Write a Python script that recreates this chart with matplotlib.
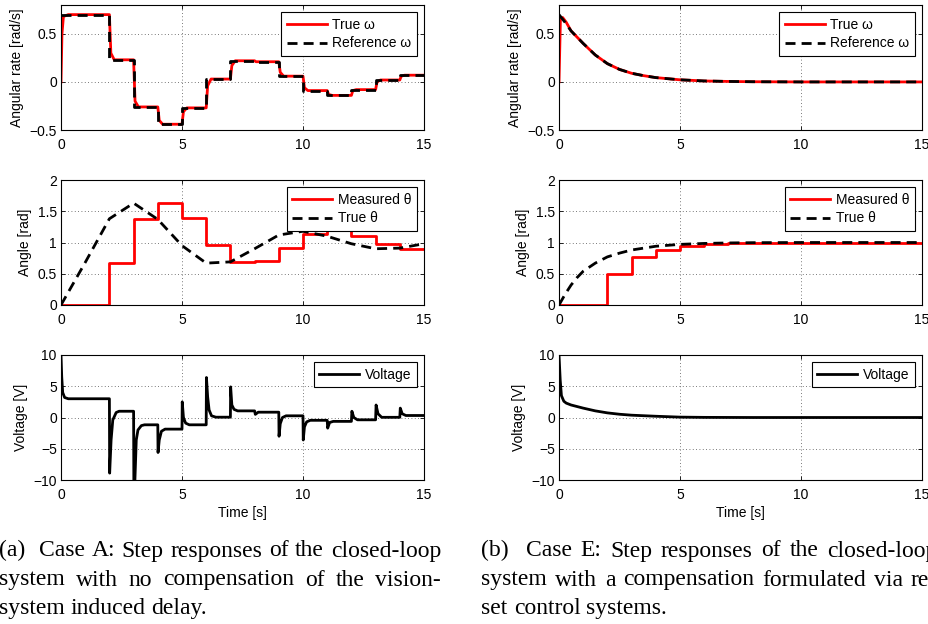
import numpy as np
import matplotlib
matplotlib.use("Agg")
import matplotlib.pyplot as plt

plt.rcParams['font.family'] = ['Liberation Sans', 'DejaVu Sans']
plt.rcParams['axes.unicode_minus'] = True

# ---------------- data ----------------
t_samples = [0, 1, 2, 3, 4, 5, 6, 7, 8, 9, 10, 11, 12, 13, 14, 15]

# Case A (no compensation)
omegaA_ref = [0.70, 0.70, 0.23, -0.26, -0.44, -0.27, 0.03, 0.22, 0.21, 0.06,
              -0.09, -0.14, -0.08, 0.02, 0.07]
omegaA_true_t = [0.00, 0.04, 0.10, 0.30,
                 2.00, 2.06, 2.20, 3.00, 3.06, 3.20, 4.00, 4.06, 4.20,
                 5.00, 5.06, 5.20, 6.00, 6.06, 6.20, 7.00, 7.06, 7.20,
                 8.00, 8.06, 8.20, 9.00, 9.06, 9.20, 10.00, 10.06, 10.20,
                 11.00, 11.06, 11.20, 12.00, 12.06, 12.20, 13.00, 13.06, 13.20,
                 14.00, 14.06, 14.20, 15.00]
omegaA_true = [0.00, 0.50, 0.68, 0.70,
               0.70, 0.30, 0.23, 0.23, -0.20, -0.26, -0.26, -0.40, -0.44,
               -0.44, -0.31, -0.27, -0.27, -0.04, 0.03, 0.03, 0.17, 0.22,
               0.22, 0.21, 0.21, 0.21, 0.10, 0.06, 0.06, -0.06, -0.09,
               -0.09, -0.13, -0.14, -0.14, -0.09, -0.08, -0.08, 0.00, 0.02,
               0.02, 0.06, 0.07, 0.07]

thetaA_meas = [0.0, 0.0, 0.665, 1.38, 1.625, 1.385, 0.955, 0.685, 0.705, 0.915,
               1.14, 1.20, 1.11, 0.98, 0.90]
thetaA_true = [0.00, 0.68, 1.38, 1.63, 1.37, 0.95, 0.67, 0.69, 0.90, 1.12,
               1.18, 1.10, 0.98, 0.90, 0.91, 0.98]

voltA_t = [0.00, 0.03, 0.07, 0.15, 0.30,
           2.00, 2.01, 2.07, 2.14, 2.28, 2.40,
           3.00, 3.01, 3.05, 3.11, 3.18, 3.32, 3.45,
           4.00, 4.01, 4.06, 4.15, 4.30,
           5.00, 5.01, 5.06, 5.15, 5.30,
           6.00, 6.01, 6.06, 6.12, 6.22, 6.40,
           7.00, 7.01, 7.06, 7.15, 7.30,
           8.00, 8.03, 8.15,
           9.00, 9.01, 9.06, 9.15, 9.30,
           10.00, 10.01, 10.06, 10.15, 10.30,
           11.00, 11.02, 11.10, 11.25,
           12.00, 12.02, 12.10, 12.25,
           13.00, 13.02, 13.10, 13.25,
           14.00, 14.02, 14.10, 14.25,
           15.00]
voltA = [10.0, 6.5, 4.0, 3.2, 3.0,
         3.0, -8.9, -3.6, -0.4, 0.8, 1.0,
         1.0, -10.5, -10.5, -3.6, -2.0, -1.3, -1.17,
         -1.17, -5.6, -3.6, -2.2, -1.86,
         -1.86, 2.5, 0.0, -0.9, -1.17,
         -1.17, 6.4, 3.3, 1.2, 0.27, 0.05,
         0.05, 4.9, 2.0, 1.3, 1.06,
         1.06, 0.5, 0.85,
         0.85, -3.0, -1.0, 0.0, 0.27,
         0.27, -3.6, -1.5, -0.7, -0.45,
         -0.45, -1.7, -0.8, -0.62,
         -0.62, 1.0, 0.0, -0.37,
         -0.37, 2.0, 0.6, 0.03,
         0.03, 1.5, 0.6, 0.32,
         0.32]

# Case E (reset-control compensation)
omegaE_ref_t = [0.0, 0.25, 0.5, 1.0, 1.5, 2.0, 2.5, 3.0, 3.5, 4.0, 5.0, 6.0,
                7.0, 8.0, 10.0, 15.0]
omegaE_ref = [0.70, 0.62, 0.53, 0.40, 0.28, 0.19, 0.13, 0.09, 0.065, 0.045,
              0.022, 0.01, 0.005, 0.002, 0.0, 0.0]
omegaE_true_t = [0.0, 0.06, 0.15, 0.30, 0.5, 1.0, 1.5, 2.0, 2.5, 3.0, 3.5, 4.0,
                 5.0, 6.0, 7.0, 8.0, 10.0, 15.0]
omegaE_true = [0.0, 0.66, 0.67, 0.62, 0.53, 0.40, 0.28, 0.19, 0.13, 0.09,
               0.065, 0.045, 0.022, 0.01, 0.005, 0.002, 0.0, 0.0]

thetaE_meas = [0.0, 0.0, 0.50, 0.765, 0.885, 0.945, 0.97, 0.985, 0.995, 1.0,
               1.0, 1.0, 1.0, 1.0, 1.0]
thetaE_true_t = [0.0, 0.25, 0.5, 0.75, 1.0, 1.5, 2.0, 2.5, 3.0, 4.0, 5.0, 6.0,
                 7.0, 8.0, 10.0, 15.0]
thetaE_true = [0.0, 0.17, 0.32, 0.44, 0.54, 0.67, 0.77, 0.83, 0.88, 0.94,
               0.97, 0.985, 0.993, 0.997, 1.0, 1.0]

voltE_t = [0.0, 0.05, 0.10, 0.20, 0.30, 0.5, 1.0, 1.5, 2.0, 2.5, 3.0, 4.0,
           5.0, 6.0, 8.0, 15.0]
voltE = [10.0, 6.0, 3.5, 2.6, 2.3, 2.0, 1.5, 1.06, 0.74, 0.52, 0.37, 0.2,
         0.06, 0.02, 0.0, 0.0]

# tick labels
xticks = [0, 5, 10, 15]
omega_ticks = [-0.5, 0, 0.5]
omega_ticklabels = ['\u22120.5', '0', '0.5']
theta_ticks = [0, 0.5, 1, 1.5, 2]
theta_ticklabels = ['0', '0.5', '1', '1.5', '2']
volt_ticks = [-10, -5, 0, 5, 10]
volt_ticklabels = ['\u221210', '\u22125', '0', '5', '10']

captionA = ["(a) Case A: Step responses of the closed-loop",
            "system with no compensation of the vision-",
            "system induced delay."]
captionB = ["(b) Case E: Step responses of the closed-loop",
            "system with a compensation formulated via re-",
            "set control systems."]

# ---------------- figure ----------------
W, H = 929, 624
fig = plt.figure(figsize=(W / 100, H / 100), dpi=100)
RED = '#ff0000'
LW = 2.0
DASH = (3.6, 2.2)


def add_ax(x0, y0, x1, y1):
    return fig.add_axes([x0 / W, 1 - y1 / H, (x1 - x0) / W, (y1 - y0) / H])


def style(ax, ylim, yt, ytl, ylabel, xlabel=None):
    ax.set_xlim(0, 15)
    ax.set_ylim(*ylim)
    ax.set_xticks(xticks)
    ax.set_xticklabels([str(v) for v in xticks])
    ax.set_yticks(yt)
    ax.set_yticklabels(ytl)
    ax.set_axisbelow(True)
    ax.grid(True, color='0.3', linestyle=(0, (1, 3)), linewidth=0.6)
    ax.tick_params(direction='in', top=True, right=True, length=3, width=0.6,
                   labelsize=10, colors='k')
    ax.tick_params(axis='x', pad=6)
    ax.tick_params(axis='y', pad=3)
    ax.set_ylabel(ylabel, fontsize=10, labelpad=4)
    if xlabel:
        ax.set_xlabel(xlabel, fontsize=10, labelpad=3)
    for s in ax.spines.values():
        s.set_linewidth(0.8)


def legend(ax):
    lg = ax.legend(loc='upper right', fontsize=10, frameon=True, fancybox=False,
                   edgecolor='k', framealpha=1, borderaxespad=0.5,
                   handlelength=2.9, handletextpad=0.4, labelspacing=0.35,
                   borderpad=0.4)
    lg.get_frame().set_linewidth(0.8)


def steps(levels):
    return list(levels) + [levels[-1]]


cols = [61, 559]
rows = [(5, 130), (180, 305), (355, 480)]

for ci, case in enumerate(['A', 'E']):
    x0 = cols[ci]
    x1 = x0 + 363
    ax1 = add_ax(x0, rows[0][0], x1, rows[0][1])
    ax2 = add_ax(x0, rows[1][0], x1, rows[1][1])
    ax3 = add_ax(x0, rows[2][0], x1, rows[2][1])

    if case == 'A':
        ax1.plot(omegaA_true_t, omegaA_true, color=RED, lw=LW, label='True \u03c9')
        ax1.step(t_samples, steps(omegaA_ref), where='post', color='k', lw=LW,
                 dashes=DASH, label='Reference \u03c9')
        ax2.step(t_samples, steps(thetaA_meas), where='post', color=RED, lw=LW,
                 label='Measured \u03b8')
        ax2.plot(t_samples, thetaA_true, color='k', lw=LW, dashes=DASH,
                 label='True \u03b8')
        ax3.plot(voltA_t, voltA, color='k', lw=LW, label='Voltage')
    else:
        ax1.plot(omegaE_true_t, omegaE_true, color=RED, lw=LW, label='True \u03c9')
        ax1.plot(omegaE_ref_t, omegaE_ref, color='k', lw=LW, dashes=DASH,
                 label='Reference \u03c9')
        ax2.step(t_samples, steps(thetaE_meas), where='post', color=RED, lw=LW,
                 label='Measured \u03b8')
        ax2.plot(thetaE_true_t, thetaE_true, color='k', lw=LW, dashes=DASH,
                 label='True \u03b8')
        ax3.plot(voltE_t, voltE, color='k', lw=LW, label='Voltage')

    style(ax1, (-0.5, 0.8), omega_ticks, omega_ticklabels, 'Angular rate [rad/s]')
    style(ax2, (0, 2), theta_ticks, theta_ticklabels, 'Angle [rad]')
    style(ax3, (-10, 10), volt_ticks, volt_ticklabels, 'Voltage [V]', 'Time [s]')
    for ax in (ax1, ax2, ax3):
        legend(ax)

# ---------------- captions (justified, Times-like) ----------------
CAP_FS = 17
SERIF = ['Liberation Serif', 'DejaVu Serif']
renderer = fig.canvas.get_renderer()


def caption_line(text, x0, x1, ybase, justify=True):
    words = text.split(' ')
    gaps = [1.0] * (len(words) - 1)
    if words[0].startswith('('):
        gaps[0] = 2.0
    objs = [fig.text(0, 1 - ybase / H, w, fontsize=CAP_FS, family=SERIF,
                     va='baseline', ha='left') for w in words]
    widths = [o.get_window_extent(renderer).width for o in objs]
    if justify:
        space = (x1 - x0 - sum(widths)) / sum(gaps)
    else:
        space = 0.25 * CAP_FS * 100 / 72
    x = x0
    for o, w, g in zip(objs, widths, gaps + [0]):
        o.set_x(x / W)
        x += w + g * space


baselines = [556.5, 585.5, 614]
for lines, (cx0, cx1) in ((captionA, (-1, 441)), (captionB, (481.5, 937))):
    for i, line in enumerate(lines):
        caption_line(line, cx0, cx1, baselines[i], justify=(i < 2))

fig.savefig('out.png', dpi=100)
